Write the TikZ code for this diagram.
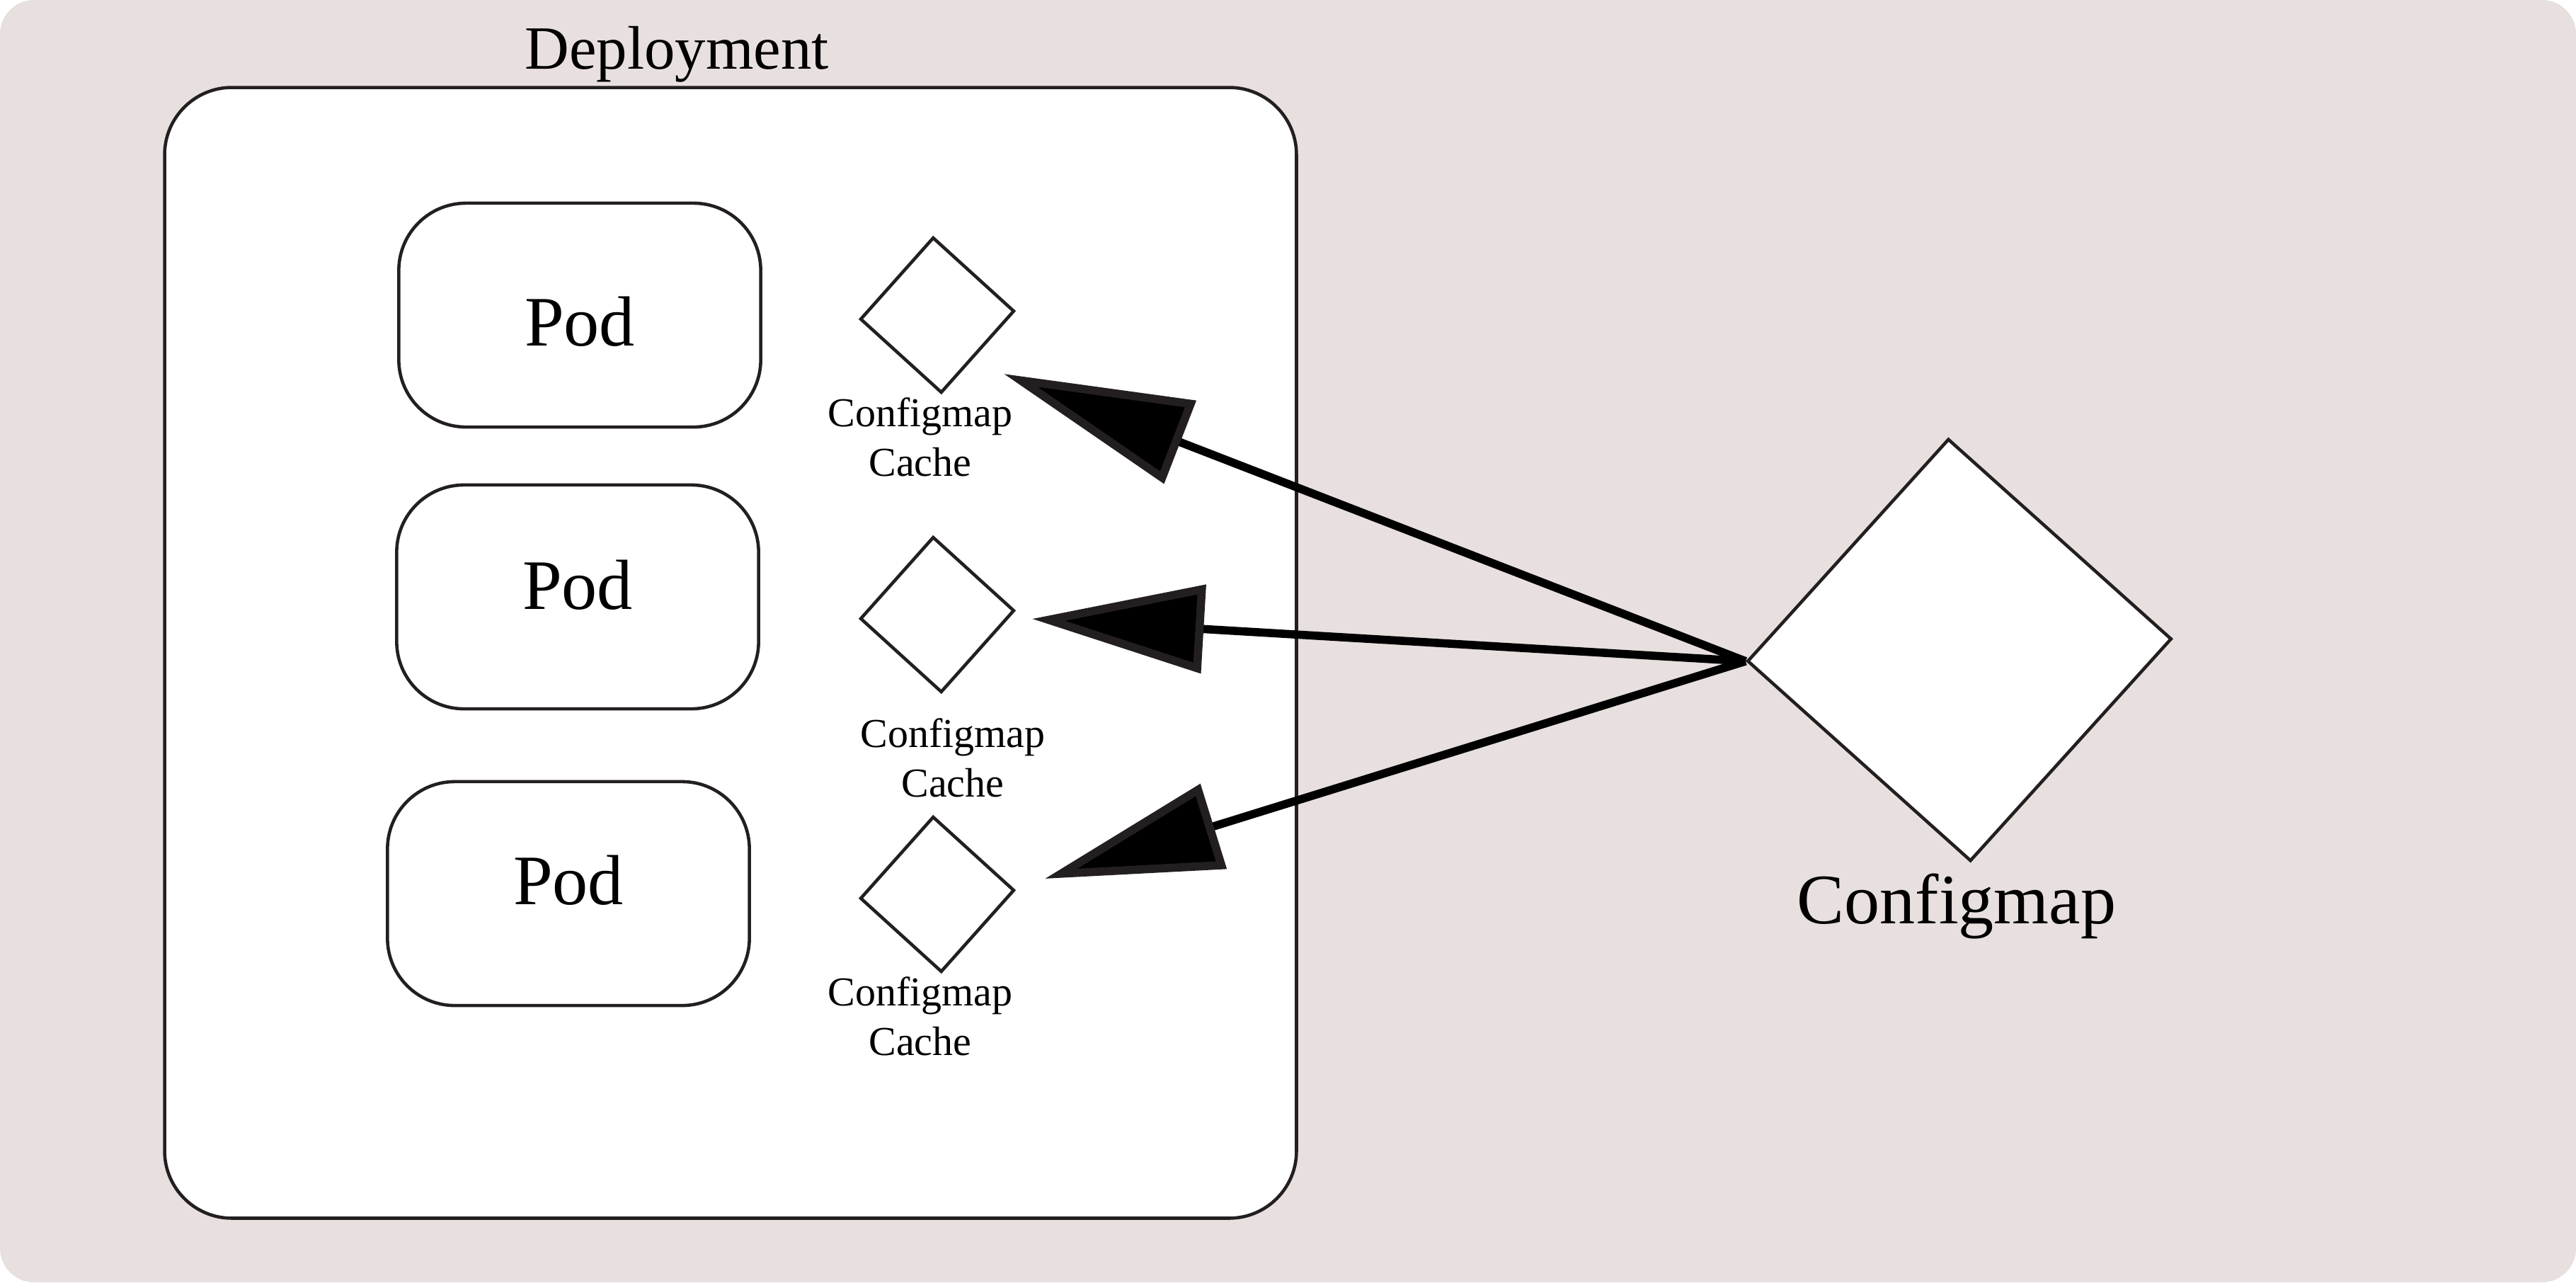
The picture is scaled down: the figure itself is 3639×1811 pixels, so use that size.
\documentclass[tikz,border=0pt]{standalone}
\usepackage{fontspec}
\setmainfont{Liberation Serif}
\usetikzlibrary{shapes.geometric,arrows.meta}
\definecolor{bg}{RGB}{232,224,223}
\definecolor{ink}{RGB}{35,31,32}
\begin{document}
\begin{tikzpicture}[x=0.01cm,y=-0.01cm,
  podbox/.style={draw=ink, line width=1.3pt, fill=white, rounded corners=0.95cm,
    minimum width=5.11cm, minimum height=3.16cm, inner sep=0pt, text depth=0pt,
    font=\fontsize{28.5}{34}\selectfont},
  cachebox/.style={draw=ink, line width=1.3pt, fill=white, shape=diamond, rotate=3,
    minimum width=2.18cm, minimum height=2.2cm, inner sep=0pt},
  cachelabel/.style={align=center, anchor=base, inner sep=0pt,
    font=\fontsize{16.5}{19.9}\selectfont},
  feed/.style={draw=black, line width=3.3pt, line join=miter,
    -{Triangle[length=#1, width=35pt, fill=black, color=ink]}},
]
\useasboundingbox (0,0) rectangle (3639,1811);
\fill[bg, rounded corners=0.48cm] (0,0) rectangle (3639,1811);

% Deployment container
\node[draw=ink, line width=1.3pt, fill=white, rounded corners=0.95cm,
  minimum width=15.98cm, minimum height=15.96cm, inner sep=0pt] (dep) at (1032,922) {};
\node[anchor=base, inner sep=0pt, font=\fontsize{24.7}{30}\selectfont] (deplabel) at (956,97) {Deployment};

% Pods
\node[podbox, text height=24.5pt] (pod1) at (819,445) {Pod};
\node[podbox, text height=10pt]   (pod2) at (816,843) {Pod};
\node[podbox, text height=8.8pt]  (pod3) at (803,1262) {Pod};

% Configmap caches
\node[cachebox] (c1) at (1324,445) {};
\node[cachebox] (c2) at (1324,868) {};
\node[cachebox] (c3) at (1324,1263) {};
\node[cachelabel] (l1) at (1300,672) {Configmap\\Cache};
\node[cachelabel] (l2) at (1346,1125) {Configmap\\Cache};
\node[cachelabel] (l3) at (1300,1490) {Configmap\\Cache};

% Configmap
\node[draw=ink, line width=1.3pt, fill=white, shape=diamond, rotate=3,
  minimum width=6cm, minimum height=5.97cm, inner sep=0pt] (cm) at (2768,918) {};
\node[anchor=base, inner sep=0pt, font=\fontsize{28.5}{34}\selectfont] (cmlabel) at (2764,1304) {Configmap};

% arrow tips
\coordinate (t1) at (1418,528);
\coordinate (t2) at (1458,874);
\coordinate (t3) at (1476,1241);
\draw[feed=76pt] (cm.west) -- (t1);
\draw[feed=69pt] (cm.west) -- (t2);
\draw[feed=71pt] (cm.west) -- (t3);
\end{tikzpicture}
\end{document}
